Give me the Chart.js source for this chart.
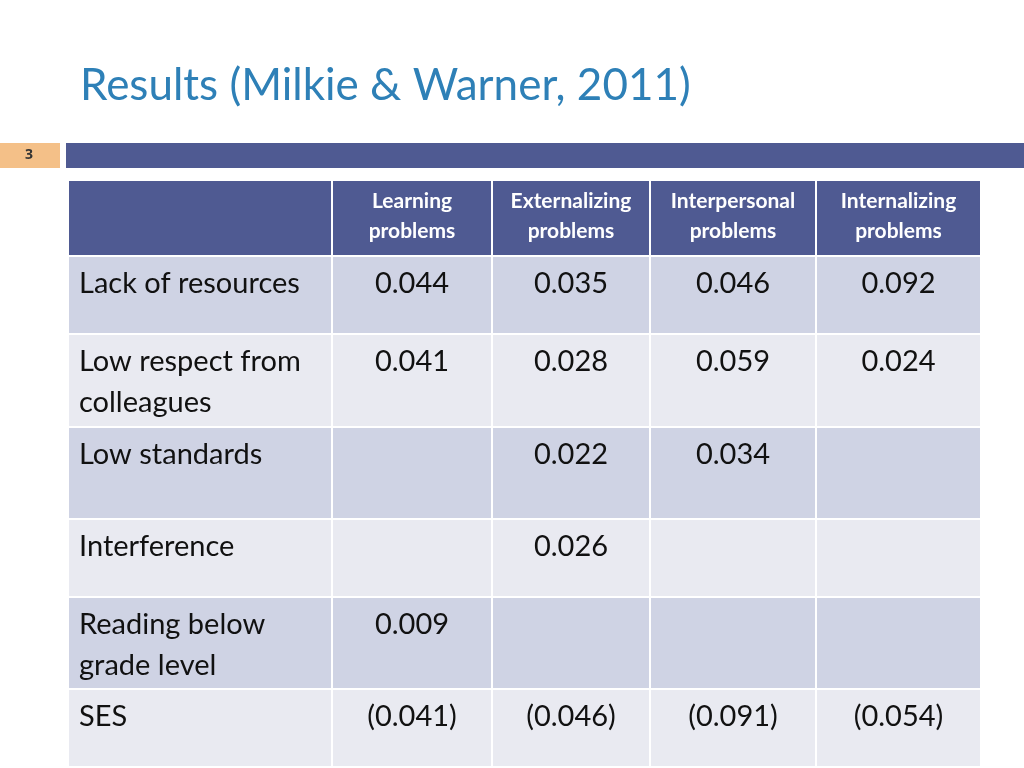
<!DOCTYPE html>
<html><head><meta charset="utf-8">
<script src="https://cdn.jsdelivr.net/npm/chart.js@4"></script>
<style>html,body{margin:0;padding:0;background:#fff}#w{width:1024px;height:768px}</style>
</head><body><div id="w"><canvas id="c"></canvas></div>
<script>
const title = "Results (Milkie & Warner, 2011)";
const slideNumber = "3";
const columns = [["Learning","problems"],["Externalizing","problems"],["Interpersonal","problems"],["Internalizing","problems"]];
const rowLabels = [["Lack of resources"],["Low respect from","colleagues"],["Low standards"],["Interference"],["Reading below","grade level"],["SES"]];
const learning      = ["0.044","0.041","","","0.009","(0.041)"];
const externalizing = ["0.035","0.028","0.022","0.026","","(0.046)"];
const interpersonal = ["0.046","0.059","0.034","","","(0.091)"];
const internalizing = ["0.092","0.024","","","","(0.054)"];
const series = [learning, externalizing, interpersonal, internalizing];

// layout (px in a 1024x768 coordinate space mapped through the scales)
const colEdges = [68,332,492,650,816,981];
const rowEdges = [180,256,334,427,519,597,689,767];

const tablePlugin = {
  id:'table',
  afterDraw(chart){
    const ctx = chart.ctx, xs = chart.scales.x, ys = chart.scales.y;
    const X = v=>xs.getPixelForValue(v), Y = v=>ys.getPixelForValue(v);
    ctx.save();
    // title
    ctx.fillStyle = '#2E80B7';
    ctx.font = '44px Lato, "Open Sans", sans-serif';
    ctx.textBaseline = 'alphabetic'; ctx.textAlign = 'left';
    ctx.fillText(title, X(80), Y(100));
    // band
    ctx.fillStyle = '#F4C088'; ctx.fillRect(X(0),Y(143),X(60)-X(0),Y(168)-Y(143));
    ctx.fillStyle = '#4F5A92'; ctx.fillRect(X(66),Y(143),X(1024)-X(66),Y(168)-Y(143));
    ctx.fillStyle = '#333'; ctx.font = 'bold 14px "Open Sans", sans-serif'; ctx.textAlign='center'; ctx.textBaseline='middle';
    ctx.fillText(slideNumber, X(29), Y(155));
    // cells
    for (let r=0;r<rowEdges.length-1;r++){
      for (let c=0;c<colEdges.length-1;c++){
        const x0=X(colEdges[c]), x1=X(colEdges[c+1]), y0=Y(rowEdges[r]), y1=Y(rowEdges[r+1]);
        ctx.fillStyle = r===0 ? '#4F5A92' : (r%2===1 ? '#CFD3E4' : '#E9EAF1');
        ctx.fillRect(x0+1,y0+1,x1-x0-2,y1-y0-2);
        if (r===0 && c>0){
          ctx.fillStyle='#fff'; ctx.font='bold 21px Lato, "Open Sans", sans-serif';
          ctx.textAlign='center'; ctx.textBaseline='middle';
          const cx=(x0+x1)/2;
          ctx.fillText(columns[c-1][0], cx, Y(201));
          ctx.fillText(columns[c-1][1], cx, Y(231));
        } else if (r>0){
          ctx.fillStyle='#111'; ctx.font='29px Lato, "Open Sans", sans-serif';
          ctx.textBaseline='middle';
          const top = rowEdges[r];
          if (c===0){
            ctx.textAlign='left';
            rowLabels[r-1].forEach((t,i)=>ctx.fillText(t, X(79), Y(top+28+i*41)));
          } else {
            ctx.textAlign='center';
            const v = series[c-1][r-1];
            if (v) ctx.fillText(v, (x0+x1)/2, Y(top+28));
          }
        }
      }
    }
    ctx.restore();
  }
};

new Chart(document.getElementById('c'), {
  type:'scatter',
  data:{datasets:[{data:[]}]},
  options:{
    responsive:true, maintainAspectRatio:false, animation:false,
    layout:{padding:0},
    plugins:{legend:{display:false},tooltip:{enabled:false}},
    scales:{
      x:{type:'linear',min:0,max:1024,display:false},
      y:{type:'linear',min:0,max:768,reverse:true,display:false}
    }
  },
  plugins:[tablePlugin]
});
</script></body></html>
